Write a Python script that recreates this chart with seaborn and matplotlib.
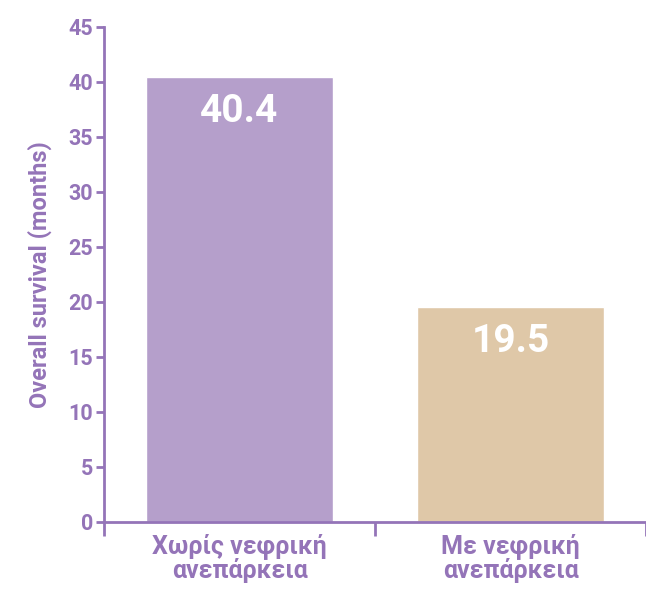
import pandas as pd
import matplotlib.pyplot as plt
import seaborn as sns

# Chart data
groups = ['Χωρίς νεφρική\nανεπάρκεια', 'Με νεφρική\nανεπάρκεια']
survival = [40.4, 19.5]
y_ticks = [0, 5, 10, 15, 20, 25, 30, 35, 40, 45]

purple = '#9474b8'
bar_colors = ['#b59fcb', '#dfc8a8']

sns.set_style('white')
plt.rcParams['font.family'] = ['Roboto', 'Noto Sans', 'DejaVu Sans']
plt.rcParams['font.weight'] = 'bold'

df = pd.DataFrame({'group': groups, 'months': survival})

fig = plt.figure(figsize=(6.46, 5.91), dpi=100)
ax = fig.add_axes([0.161, 0.117, 0.839, 0.838])

sns.barplot(data=df, x='group', y='months', hue='group', palette=bar_colors,
            width=0.69, legend=False, ax=ax, saturation=1)

ax.set_ylim(0, 45)
ax.set_xlim(-0.5, 1.41)
ax.set_yticks(y_ticks)
ax.set_xticks([0, 1])
ax.set_xticks([-0.5, 0.5, 1.5], minor=True)

for s in ['top', 'right']:
    ax.spines[s].set_visible(False)
for s in ['left', 'bottom']:
    ax.spines[s].set_color(purple)
    ax.spines[s].set_linewidth(2)

ax.tick_params(axis='y', colors=purple, labelsize=15.5, length=6, width=2,
               left=True, pad=2)
ax.tick_params(axis='x', which='major', colors=purple, labelsize=18,
               length=0, pad=8)
ax.tick_params(axis='x', which='minor', colors=purple, length=10, width=2,
               bottom=True)
for lab in ax.get_yticklabels() + ax.get_xticklabels():
    lab.set_fontweight('bold')
for lab in ax.get_xticklabels():
    lab.set_linespacing(0.95)

ax.set_xlabel('')
ax.set_ylabel('Overall survival (months)', color=purple, fontsize=17,
              fontweight='bold', labelpad=12)

# Value labels inside the bars
for bar, v in zip(ax.patches, survival):
    ax.annotate(f'{v}', (bar.get_x() + bar.get_width() / 2, bar.get_height()),
                xytext=(0, -25), textcoords='offset points',
                ha='center', va='center', color='white',
                fontsize=28, fontweight='bold')

fig.savefig('out.png', dpi=100)
